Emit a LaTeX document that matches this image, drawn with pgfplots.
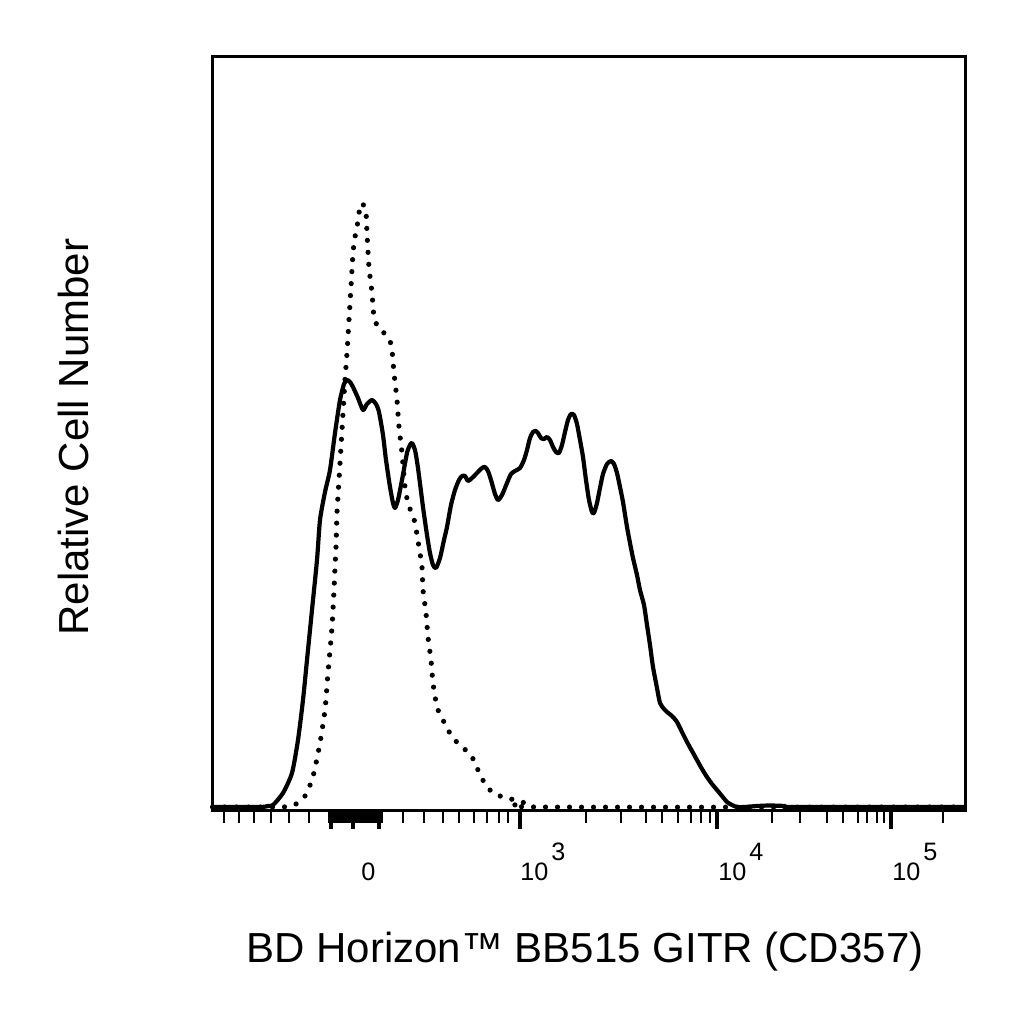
\documentclass[border=0pt]{standalone}
\usepackage{fontspec}
\setmainfont{Liberation Sans}
\usepackage{pgfplots}
\usepackage{pgfplotstable}
\pgfplotsset{compat=1.18}

\newcommand{\tl}[1]{\mbox{\fontsize{12.6}{14}\selectfont #1}}
\newcommand{\dec}[1]{\tl{10\kern1.5pt\raisebox{10pt}{#1}}}

% x = display position of the biexponential scale (reference pixels), y = height above baseline
\pgfplotstableread{
x y
212.5 3
260 3
268 4
273 5
283 17
292 37
298 70
303 110
307 150
312 200
317 250
320 290
325 318
330 340
335 377
340 410
344 426
347 430
350 428
353 423
358 412
363 400
367 406
372 410
376 406
379 398
383 375
386 350
390 323
393 307
395 302
398 310
402 330
407 357
410 365
412 367
415 360
418 342
423 303
427 275
430 257
433 245
436 242
440 252
444 270
447 283
451 305
455 320
459 330
462 334
465 334
468 329
472 332
477 337
482 342
485 343
488 339
491 330
495 316
498 310
502 315
507 327
511 336
515 339
520 342
524 350
527 360
530 372
533 378
536 379
538 377
541 372
544 371
547 373
550 370
553 363
556 358
559 357
562 365
565 378
568 390
571 396
574 395
577 386
580 370
583 353
586 330
589 310
592 298
594 297
597 307
600 322
603 336
607 346
611 349
614 346
617 337
620 323
623 308
627 283
630 267
633 252
637 235
640 220
644 205
647 185
650 165
653 143
657 122
660 107
664 101
667 98
672 94
677 88
682 78
687 68
692 59
697 50
702 41
707 33
712 26
717 20
722 14
727 8
732 5
737 3
745 3
757 4
770 4.5
785 4
795 3
965.5 3
}\stained

\pgfplotstableread{
x y
212.5 3
280 3
290 4
296 6
300 9
305 14
308 20
312 30
315 42
320 67
325 100
328 137
332 183
334 220
335 243
336 263
337 297
339 330
341 363
343 397
345 430
347 457
349 490
351 523
353 557
355 573
357 583
359 597
361 605
362 607
364 604
366 598
367 577
369 543
372 517
374 493
378 483
383 478
387 474
390 469
392 460
394 437
397 410
399 383
402 357
405 323
408 307
412 296
415 287
419 263
422 243
423 220
426 197
428 173
431 150
433 127
437 103
442 92
447 82
453 72
462 63
468 58
472 53
476 45
480 35
486 25
493 17
503 13
515 10
525 7
537 3
965.5 3
}\isotype

\begin{document}
\begin{tikzpicture}
\begin{axis}[
    scale only axis,
    width=376.5pt, height=376.5pt,
    at={(0,0)}, anchor=south west,
    xmin=212.5, xmax=965.5,
    ymin=0, ymax=753,
    axis line style={line width=1.5pt, black},
    ytick=\empty,
    xtick pos=bottom,
    tick align=outside,
    xtick={361,520,718,892},
    xticklabels={{\tl{0}}, {\dec{3}}, {\dec{4}}, {\dec{5}}},
    xticklabel style={anchor=base west, inner sep=0pt, yshift=-35pt},
    major tick length=0pt,
    minor xtick={224,239,254,271,289,309,
      329,330.5,332,333.5,335,336.5,338,339.5,341,342.5,344,345.5,347,348.5,
      350,351.5,353,354.5,356,357.5,359,360.5,362,363.5,365,366.5,368,369.5,
      371,372.5,374,375.5,377,378.5,380,381.5,
      403,424,443,459,474,487,499,508,
      586,621,646,662,678,691,701,710,
      772,800,827,843,858,867,877,884,943},
    minor tick length=6.5pt,
    minor tick style={line width=1.3pt, black},
    extra x ticks={331,353,379,520,717,891},
    extra x tick labels={},
    extra tick style={major tick length=9.5pt, major tick style={line width=2.2pt, black}},
    xlabel={BD Horizon™ BB515 GITR (CD357)},
    ylabel={Relative Cell Number},
    label style={font=\fontsize{21}{24}\selectfont},
    xlabel style={at={(axis description cs:0.4947,-0.2019)}, anchor=base},
    ylabel style={at={(axis description cs:-0.1653,0.4954)}, anchor=base},
    clip=false,
]
\addplot[black, line width=2.1pt, line join=round, smooth, tension=0.4] table {\stained};
\addplot[black, line width=2.6pt, line cap=round, dash pattern=on 0pt off 6pt, smooth, tension=0.4] table {\isotype};
\end{axis}
\pgfresetboundingbox
\path[use as bounding box] (-106.25pt,-107pt) rectangle (405.75pt,405pt);
\end{tikzpicture}
\end{document}
